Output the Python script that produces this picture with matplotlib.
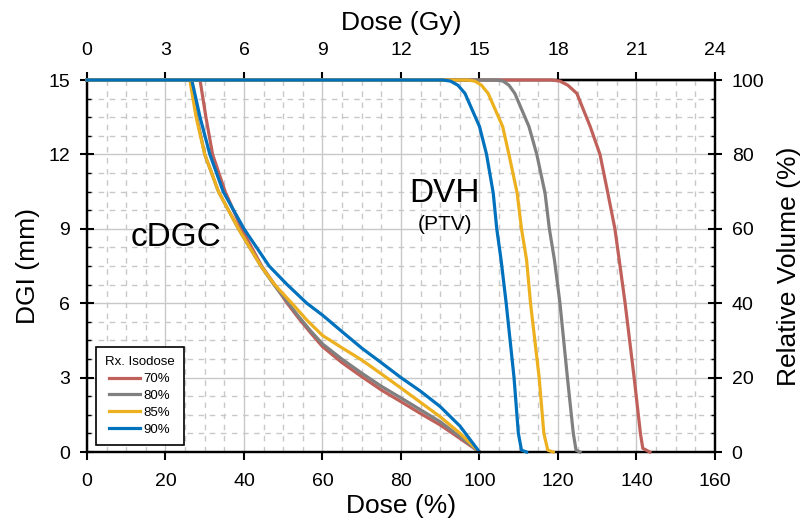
import matplotlib
matplotlib.use('Agg')
import matplotlib.pyplot as plt
from matplotlib.ticker import MultipleLocator

plt.rcParams['font.family'] = ['Liberation Sans', 'DejaVu Sans']

LABELS = ["70%", "80%", "85%", "90%"]
COLORS = ["#C0605A", "#808080", "#EDB120", "#0072BD"]

# cDGC: dose (%) vs DGI (mm)
dgc_dose_70 = [0, 28.8, 30.3, 32, 35.2, 39.4, 44.5, 47.8, 51, 54, 57, 60, 65, 70, 75, 80, 85, 90, 95, 100]
dgc_dgi_70 = [15, 15, 13.5, 12, 10.5, 9, 7.5, 6.75, 6, 5.38, 4.8, 4.25, 3.6, 3.04, 2.5, 2.03, 1.55, 1.09, 0.55, 0]
dgc_dose_80 = [0, 26.5, 28, 30, 33.5, 38.6, 44.3, 47.6, 51.3, 54, 57, 60, 65, 70, 75, 80, 85, 90, 95, 100]
dgc_dgi_80 = [15, 15, 13.5, 12, 10.5, 9, 7.5, 6.75, 6, 5.45, 4.88, 4.36, 3.74, 3.18, 2.65, 2.18, 1.7, 1.22, 0.62, 0]
dgc_dose_85 = [0, 26.2, 27.8, 30, 33.5, 38.6, 44.3, 47.8, 52.2, 56, 60, 65, 70, 75, 80, 85, 90, 95, 100]
dgc_dgi_85 = [15, 15, 13.5, 12, 10.5, 9, 7.5, 6.75, 6, 5.32, 4.7, 4.2, 3.71, 3.15, 2.58, 2.0, 1.42, 0.76, 0]
dgc_dose_90 = [0, 26.7, 28.8, 31.3, 34.7, 40, 46.4, 51, 56, 60, 65, 70, 75, 80, 85, 90, 95, 100]
dgc_dgi_90 = [15, 15, 13.5, 12, 10.5, 9, 7.5, 6.75, 6, 5.52, 4.85, 4.19, 3.6, 3.0, 2.45, 1.83, 1.05, 0]

# DVH (PTV): dose (%) vs relative volume (%)
dvh_dose_70 = [0, 118.4, 120.5, 122.5, 124.8, 128.2, 130.7, 132.7, 134.5, 135.6, 137.1, 139.4, 141, 141.6, 143.4]
dvh_vol_70 = [100, 100, 99.7, 98.6, 96.4, 87.5, 80, 69.6, 60, 51.6, 40, 20, 5, 1, 0]
dvh_dose_80 = [0, 104.4, 106, 107.5, 109, 112.6, 114.6, 116.7, 117.8, 119.1, 120.5, 122.4, 123.9, 124.6, 125.6]
dvh_vol_80 = [100, 100, 99.7, 98.6, 96.4, 87.5, 80, 69.6, 60, 51.6, 40, 20, 5, 0.5, 0]
dvh_dose_85 = [0, 97, 98.8, 100.5, 102.2, 105.9, 107.5, 109.6, 110.7, 112, 113, 115.2, 116.4, 117.4, 118.8]
dvh_vol_85 = [100, 100, 99.7, 98.6, 96.4, 87.5, 80, 69.6, 60, 51.6, 40, 20, 5, 0.5, 0]
dvh_dose_90 = [0, 90.7, 92.6, 94.5, 96.3, 100, 101.8, 103.5, 104.4, 105.5, 106.8, 108.8, 109.9, 110.7, 112]
dvh_vol_90 = [100, 100, 99.7, 98.6, 96.4, 87.5, 80, 69.6, 60, 51.6, 40, 20, 5, 0.5, 0]

dgc = [(dgc_dose_70, dgc_dgi_70), (dgc_dose_80, dgc_dgi_80),
       (dgc_dose_85, dgc_dgi_85), (dgc_dose_90, dgc_dgi_90)]
dvh = [(dvh_dose_70, dvh_vol_70), (dvh_dose_80, dvh_vol_80),
       (dvh_dose_85, dvh_vol_85), (dvh_dose_90, dvh_vol_90)]

fig = plt.figure(figsize=(8.04, 5.25), dpi=100)
ax = fig.add_axes([0.1082, 0.139, 0.7811, 0.7086])
ax2 = ax.twinx()

# --- cDGC on left axis ---
handles = []
for (x, y), c, lab in zip(dgc, COLORS, LABELS):
    h, = ax.plot(x, y, color=c, lw=2.3, label=lab, clip_on=False, zorder=3)
    handles.append(h)

# --- DVH on right axis ---
for (x, y), c in zip(dvh, COLORS):
    ax2.plot(x, y, color=c, lw=2.3, clip_on=False, zorder=3)

ax.set_xlim(0, 160)
ax.set_ylim(0, 15)
ax2.set_ylim(0, 100)

ax.xaxis.set_major_locator(MultipleLocator(20))
ax.xaxis.set_minor_locator(MultipleLocator(5))
ax.yaxis.set_major_locator(MultipleLocator(3))
ax.yaxis.set_minor_locator(MultipleLocator(0.75))
ax2.yaxis.set_major_locator(MultipleLocator(20))
ax2.yaxis.set_minor_locator(MultipleLocator(5))

ax.grid(which='major', color='#c8c8c8', lw=1.0, ls='-')
ax.grid(which='minor', color='#c8c8c8', lw=1.0, ls=(0, (4, 4)))
ax.set_axisbelow(True)

# top axis in Gy (100% = 15 Gy)
secx = ax.secondary_xaxis('top', functions=(lambda d: d * 0.15, lambda g: g / 0.15))
secx.xaxis.set_major_locator(MultipleLocator(3))
secx.xaxis.set_minor_locator(MultipleLocator(0.75))

for a in (ax, ax2):
    for s in a.spines.values():
        s.set_linewidth(1.6)

ax.tick_params(axis='x', which='major', direction='out', length=6, width=1.5, labelsize=14, pad=9)
ax.tick_params(axis='x', which='minor', length=0)
ax.tick_params(axis='y', which='major', direction='inout', length=10, width=1.5, labelsize=14, pad=7)
ax.tick_params(axis='y', which='minor', direction='in', length=3, width=1)
ax2.tick_params(axis='y', which='major', direction='inout', length=10, width=1.5, labelsize=14, pad=7)
ax2.tick_params(axis='y', which='minor', direction='in', length=3, width=1)
secx.tick_params(axis='x', which='major', direction='out', length=6, width=1.5, labelsize=14, pad=9)
secx.tick_params(axis='x', which='minor', length=0)
secx.spines['top'].set_linewidth(1.6)

ax.set_xlabel("Dose (%)", fontsize=19, labelpad=3)
ax.set_ylabel("DGI (mm)", fontsize=19, labelpad=6)
ax2.set_ylabel("Relative Volume (%)", fontsize=19, labelpad=9)
secx.set_xlabel("Dose (Gy)", fontsize=19, labelpad=9)

ax.text(22.7, 8.63, "cDGC", fontsize=24, ha='center', va='center')
ax.text(91.1, 10.44, "DVH", fontsize=24, ha='center', va='center')
ax.text(91.2, 9.19, "(PTV)", fontsize=15, ha='center', va='center')

leg = ax2.legend(handles=handles, title="Rx. Isodose", loc='lower left',
                 bbox_to_anchor=(0.014, 0.019), borderaxespad=0, fontsize=9.5,
                 title_fontsize=9.5, fancybox=False, framealpha=1, edgecolor='black',
                 handlelength=2.3, handletextpad=0.3, labelspacing=0.35,
                 borderpad=0.7)
leg.get_frame().set_linewidth(1.2)

fig.savefig("out.png", dpi=100)
